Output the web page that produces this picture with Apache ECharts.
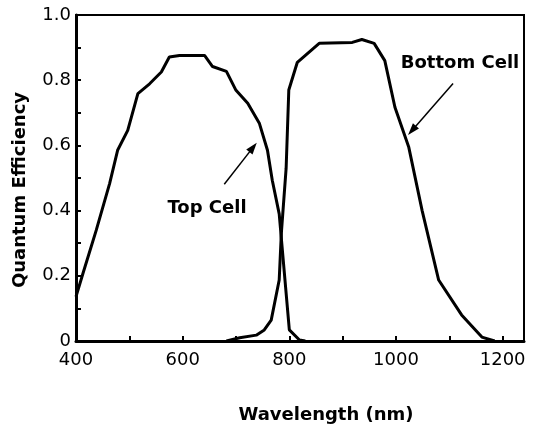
<!DOCTYPE html>
<html>
<head>
<meta charset="utf-8">
<script src="https://cdn.jsdelivr.net/npm/echarts@6/dist/echarts.min.js"></script>
<style>html,body{margin:0;padding:0;background:#fff;}#c{width:533px;height:424px;}</style>
</head>
<body>
<div id="c"></div>
<script>
var topWavelength = [400, 413, 438, 463, 478, 497, 516, 538, 560, 575, 594, 641, 656, 682, 700, 722, 744, 759, 768, 781, 800, 819, 830];
var topQE         = [0.136, 0.207, 0.34, 0.483, 0.585, 0.646, 0.759, 0.789, 0.825, 0.871, 0.876, 0.876, 0.842, 0.827, 0.769, 0.729, 0.667, 0.585, 0.493, 0.39, 0.034, 0.003, 0];
var bottomWavelength = [682, 707, 738, 753, 766, 781, 785, 794, 799, 815, 856, 918, 936, 959, 979, 998, 1024, 1049, 1080, 1123, 1161, 1185];
var bottomQE         = [0, 0.01, 0.018, 0.034, 0.064, 0.187, 0.33, 0.53, 0.77, 0.855, 0.913, 0.916, 0.925, 0.913, 0.86, 0.717, 0.594, 0.40, 0.187, 0.08, 0.012, 0];
var xTickLabels = [400, 600, 800, 1000, 1200];
var yTickLabels = [0, 0.2, 0.4, 0.6, 0.8, 1.0];
var seriesNames = ['Top Cell', 'Bottom Cell'];
var xTitle = 'Wavelength (nm)';
var yTitle = 'Quantum Efficiency';
// arrows in data coordinates [from, to]
var topArrow = [[678, 0.481], [732, 0.594]];
var bottomArrow = [[1107, 0.79], [1030, 0.646]];

function pairs(xs, ys) { return xs.map(function (x, i) { return [x, ys[i]]; }); }

var FONT = 'DejaVu Sans';
var chart = echarts.init(document.getElementById('c'));

function arrowLine(a) {
  return {
    silent: true,
    symbol: ['none', 'triangle'],
    symbolSize: [8, 12],
    label: { show: false },
    lineStyle: { color: '#000', width: 1.5, type: 'solid' },
    emphasis: { disabled: true },
    data: [[{ coord: a[0] }, { coord: a[1] }]]
  };
}

chart.setOption({
  animation: false,
  backgroundColor: '#fff',
  grid: { left: 76, right: 9, top: 15, bottom: 83, show: true, borderColor: '#000', borderWidth: 2, backgroundColor: 'transparent' },
  xAxis: {
    type: 'value', min: 400, max: 1240, interval: 100,
    axisLine: { lineStyle: { color: '#000', width: 3 } },
    axisTick: { inside: true, length: 5, lineStyle: { color: '#000', width: 2 } },
    splitLine: { show: false },
    axisLabel: {
      color: '#000', fontFamily: FONT, fontSize: 18, margin: 10, showMaxLabel: false,
      formatter: function (v) { return xTickLabels.indexOf(v) >= 0 ? String(v) : ''; }
    }
  },
  yAxis: {
    type: 'value', min: 0, max: 1, interval: 0.1,
    axisLine: { lineStyle: { color: '#000', width: 3 } },
    axisTick: { inside: true, length: 5, lineStyle: { color: '#000', width: 2 } },
    splitLine: { show: false },
    axisLabel: {
      color: '#000', fontFamily: FONT, fontSize: 18, margin: 5,
      formatter: function (v) {
        for (var i = 0; i < yTickLabels.length; i++) {
          if (Math.abs(yTickLabels[i] - v) < 1e-6) return v === 0 ? '0' : yTickLabels[i].toFixed(1);
        }
        return '';
      }
    }
  },
  series: [
    {
      name: seriesNames[0], type: 'line', data: pairs(topWavelength, topQE),
      showSymbol: false, symbol: 'none', lineStyle: { color: '#000', width: 3 },
      markLine: arrowLine(topArrow)
    },
    {
      name: seriesNames[1], type: 'line', data: pairs(bottomWavelength, bottomQE),
      showSymbol: false, symbol: 'none', lineStyle: { color: '#000', width: 3 },
      markLine: arrowLine(bottomArrow)
    }
  ],
  graphic: [
    { type: 'text', x: 326, y: 415, style: { text: xTitle, fill: '#000', font: 'bold 18px "DejaVu Sans"', textAlign: 'center', textVerticalAlign: 'middle' } },
    { type: 'text', x: 20, y: 190, rotation: Math.PI / 2, style: { text: yTitle, fill: '#000', font: 'bold 18px "DejaVu Sans"', textAlign: 'center', textVerticalAlign: 'middle' } },
    { type: 'text', x: 207, y: 208, style: { text: seriesNames[0], fill: '#000', font: 'bold 18px "DejaVu Sans"', textAlign: 'center', textVerticalAlign: 'middle' } },
    { type: 'text', x: 460, y: 63, style: { text: seriesNames[1], fill: '#000', font: 'bold 18px "DejaVu Sans"', textAlign: 'center', textVerticalAlign: 'middle' } }
  ]
});
</script>
</body>
</html>
